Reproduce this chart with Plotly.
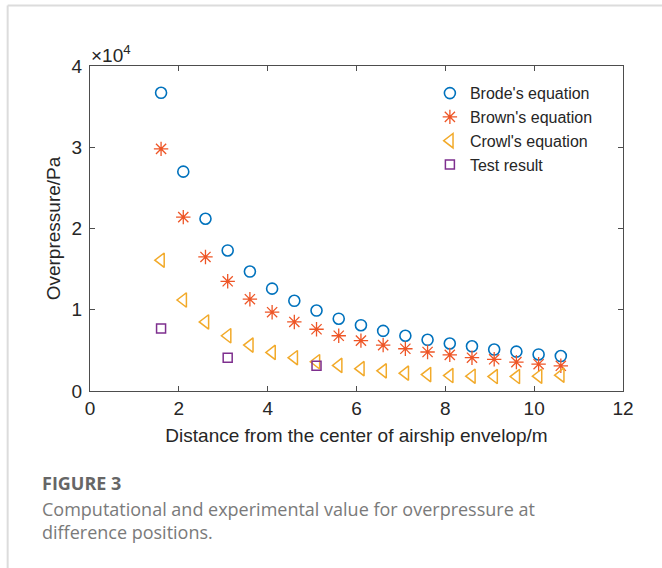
import plotly.graph_objects as go

distance = [1.6, 2.1, 2.6, 3.1, 3.6, 4.1, 4.6, 5.1, 5.6, 6.1, 6.6, 7.1, 7.6, 8.1, 8.6, 9.1, 9.6, 10.1, 10.6]
brode = [36700, 27000, 21200, 17300, 14700, 12600, 11100, 9900, 8900, 8100, 7400, 6800, 6300, 5850, 5500, 5100, 4850, 4500, 4300]
brown = [29800, 21400, 16500, 13500, 11300, 9700, 8500, 7600, 6800, 6200, 5650, 5200, 4800, 4450, 4100, 3900, 3550, 3300, 3100]
crowl = [16100, 11200, 8500, 6800, 5650, 4750, 4100, 3600, 3150, 2750, 2480, 2200, 2020, 1900, 1820, 1780, 1780, 1820, 1950]
test_x = [1.6, 3.1, 5.1]
test_y = [7700, 4100, 3100]

x_ticks = [0, 2, 4, 6, 8, 10, 12]
y_ticks = [0, 10000, 20000, 30000, 40000]
y_tick_text = ["0", "1", "2", "3", "4"]

FONT = "Liberation Sans, Arial, sans-serif"
CAP_FONT = "Open Sans, sans-serif"

fig = go.Figure()
fig.add_trace(go.Scatter(x=distance, y=brode, mode="markers", name="Brode's equation",
                         marker=dict(symbol="circle-open", size=11, color="#0072BD", line=dict(width=1.6))))
fig.add_trace(go.Scatter(x=distance, y=brown, mode="markers", name="Brown's equation",
                         marker=dict(symbol="asterisk-open", size=12, color="#EE5526", line=dict(width=1.3))))
fig.add_trace(go.Scatter(x=distance, y=crowl, mode="markers", name="Crowl's equation",
                         marker=dict(symbol="triangle-left-open", size=12.5, color="#F2AA2A", line=dict(width=1.5))))
fig.add_trace(go.Scatter(x=test_x, y=test_y, mode="markers", name="Test result",
                         marker=dict(symbol="square-open", size=9, color="#7E2F8E", line=dict(width=1.5))))

L, R, T, B = 90.3, 623, 66.3, 390.7
W, H = 662, 568
pw, ph = R - L, B - T

def px(x):
    return (x - L) / pw

def py(y):
    return (B - y) / ph

fig.update_layout(
    width=W, height=H,
    margin=dict(l=L, r=W - R, t=T, b=H - B),
    paper_bgcolor="white", plot_bgcolor="white",
    font=dict(family=FONT, size=17, color="#262626"),
    showlegend=True,
    legend=dict(x=px(430), y=py(76.5), xanchor="left", yanchor="top",
                bgcolor="rgba(0,0,0,0)", borderwidth=0,
                font=dict(family=FONT, size=16, color="#262626"),
                itemsizing="trace", tracegroupgap=0),
    xaxis=dict(range=[0, 12], tickvals=x_ticks, ticks="inside", ticklen=5,
               showline=True, mirror="ticks", linecolor="#4d4d4d", linewidth=1,
               tickcolor="#4d4d4d", showgrid=False, zeroline=False,
               tickfont=dict(size=19),
               title=dict(text="Distance from the center of airship envelop/m", font=dict(size=19), standoff=10)),
    yaxis=dict(range=[0, 40000], tickvals=y_ticks, ticktext=y_tick_text, ticks="inside", ticklen=5,
               showline=True, mirror="ticks", linecolor="#4d4d4d", linewidth=1,
               tickcolor="#4d4d4d", showgrid=False, zeroline=False,
               tickfont=dict(size=19), ticklabelstandoff=3,
               title=dict(text="Overpressure/Pa", font=dict(size=19), standoff=5)),
    shapes=[
        dict(type="line", xref="paper", yref="paper", x0=px(8), x1=px(680), y0=py(6), y1=py(6),
             line=dict(color="#dcdcdc", width=2)),
        dict(type="line", xref="paper", yref="paper", x0=px(8), x1=px(8), y0=py(6), y1=py(600),
             line=dict(color="#dcdcdc", width=2)),
    ],
    annotations=[
        dict(text="×10<sup>4</sup>", xref="paper", yref="paper", x=px(89), y=py(54),
             xanchor="left", yanchor="middle", showarrow=False,
             font=dict(family=FONT, size=19, color="#262626")),
        dict(text="<b>FIGURE 3</b>", xref="paper", yref="paper", x=px(40), y=py(483),
             xanchor="left", yanchor="middle", showarrow=False,
             font=dict(family=CAP_FONT, size=18, color="#666666")),
        dict(text="Computational and experimental value for overpressure at<br>difference positions.",
             xref="paper", yref="paper", x=px(40), y=py(520), align="left",
             xanchor="left", yanchor="middle", showarrow=False,
             font=dict(family=CAP_FONT, size=18, color="#7a7a7a")),
    ],
)

fig.write_html("out.html")
